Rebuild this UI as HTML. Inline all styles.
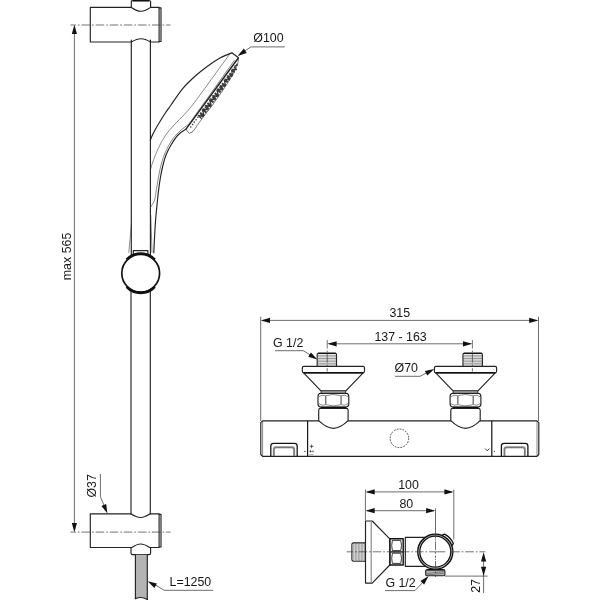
<!DOCTYPE html>
<html>
<head>
<meta charset="utf-8">
<title>Shower set dimensions</title>
<style>
html,body{margin:0;padding:0;background:#fff;}
body{width:600px;height:600px;overflow:hidden;}
svg{display:block;will-change:transform;}
text{font-family:"Liberation Sans",Arial,sans-serif;font-size:12.4px;fill:#161616;}
.o{fill:none;stroke:#222;stroke-width:1.15;stroke-linejoin:round;stroke-linecap:round;}
.of{fill:#fff;stroke:#222;stroke-width:1.15;stroke-linejoin:round;}
.t{fill:none;stroke:#2a2a2a;stroke-width:0.55;}
.d{fill:none;stroke:#333;stroke-width:0.72;}
.c{fill:none;stroke:#444;stroke-width:0.75;stroke-dasharray:8.6 1.9 1.7 1.9;}
.a{fill:#111;stroke:none;}
.th{fill:none;stroke:#555;stroke-width:0.6;}
</style>
</head>
<body>
<svg width="600" height="600" viewBox="0 0 600 600">
<rect width="600" height="600" fill="#fff"/>

<!-- ===== LEFT: rail ===== -->
<g id="rail">
  <!-- bar -->
  <line class="o" x1="131.3" y1="40" x2="131.3" y2="255"/>
  <line class="o" x1="150.4" y1="40" x2="150.4" y2="255"/>
  <line class="o" x1="131" y1="290" x2="131" y2="514"/>
  <line class="o" x1="150.3" y1="290" x2="150.3" y2="514"/>
  <!-- top bracket -->
  <path class="o" d="M131.3 7.4 H90.3 V42 H131.3 C135 39.8 138 38.7 141 38.7 C144 38.7 147 39.8 150.6 42 H159.1 V7.4 H150.6 C147 9.9 144 11.2 141 11.2 C138 11.2 135 9.9 131.3 7.4 Z"/>
  <path class="o" d="M159.1 7.9 H161 V41.5 H159.1" stroke-width="0.8"/>
  <path class="o" d="M131.3 7.4 V1.6 Q131.3 0.6 133 0.6 H149 Q150.6 0.6 150.6 1.6 V7.4"/>
  <path d="M133 0.2 H149 V1.4 H133 Z" fill="#111"/>
  <!-- bottom bracket -->
  <path class="o" d="M130.8 513.8 H90.3 V547.5 H131.8 C135.2 545.2 138 544 140.7 544 C143.4 544 146.2 545.2 149.6 547.5 H159.1 V513.8 H150.2 C146.5 516.2 143.5 517.5 140.5 517.5 C137.5 517.5 134.5 516.2 130.8 513.8 Z"/>
  <path class="o" d="M159.1 514.3 H161 V547 H159.1" stroke-width="0.8"/>
  <!-- nut -->
  <path class="o" d="M131 547.5 V553 Q131 554.6 132.6 554.6 H149 Q150.6 554.6 150.6 553 V547.5"/>
  <!-- hose -->
  <path d="M135.4 554.8 H147.3 V599.4 Q141.5 596 135.4 598.6 Z" fill="#b4b4b4" stroke="none"/><path class="o" d="M135.4 598.6 Q141.5 596 147.3 599.4"/>
  <line class="o" x1="135.4" y1="554.8" x2="135.4" y2="598.6"/>
  <line class="o" x1="147.3" y1="554.8" x2="147.3" y2="599.4"/>
  <!-- slider -->
  <path class="o" d="M133.3 255 V250.6 H147.9 V255"/>
  <circle cx="140.7" cy="273.2" r="18.9" fill="#fff" stroke="#111" stroke-width="1.7"/>
  <path d="M126.6 259.6 A19.4 19.4 0 0 1 154.8 259.6" fill="none" stroke="#111" stroke-width="2.6"/>
  <path d="M126.6 286.8 A19.4 19.4 0 0 0 154.8 286.8" fill="none" stroke="#111" stroke-width="2.6"/>
  <!-- center lines -->
  <line class="c" x1="70.5" y1="25" x2="170.5" y2="25" stroke-dashoffset="3.1"/>
  <line class="c" x1="70.5" y1="532.1" x2="170.5" y2="532.1" stroke-dashoffset="3.1"/>
</g>

<!-- ===== hand shower ===== -->
<g id="hand">
  <path class="o" d="M150.3 140.2 C150.6 139.5 151.2 137.7 152.0 136.0 C152.8 134.3 153.7 132.4 155.0 130.0 C156.3 127.6 158.3 124.2 160.0 121.5 C161.7 118.8 163.2 116.2 165.0 113.5 C166.8 110.8 168.1 109.1 171.0 105.0 C173.9 100.9 178.5 93.5 182.5 88.8 C186.5 84.0 190.8 80.0 195.0 76.2 C199.2 72.5 203.3 69.3 207.5 66.2 C211.7 63.2 215.9 60.4 220.0 58.1 C224.1 55.9 229.9 53.6 231.9 52.8 L238.5 57.75"/>
  <path d="M238.5 57.75 L185.8 129.3" fill="none" stroke="#1c1c1c" stroke-width="1.4"/>
  <path class="t" d="M234.7 59.9 L189.0 124.0"/>
  <path d="M236.5 63.7 L237.3 65.1 L234.8 66.0 L235.6 67.3 M234.0 67.0 L236.4 69.5 L232.4 69.3 L234.7 71.7 M234.7 72.6 L231.6 70.3 L232.6 75.3 L229.6 73.0 M229.1 73.6 L231.9 76.4 L227.5 75.8 L230.3 78.7 M226.7 76.9 L229.6 79.8 L225.0 79.1 L227.9 82.0 M227.5 82.6 L224.3 80.2 L225.5 85.4 L222.2 82.9 M221.8 83.5 L224.8 86.4 L220.2 85.7 L223.2 88.7 M219.4 86.8 L222.4 89.8 L217.7 89.0 L220.8 92.0 M220.4 92.7 L216.9 90.1 L218.4 95.4 L214.9 92.8 M214.5 93.4 L217.7 96.5 L212.8 95.6 L216.0 98.7 M212.1 96.7 L215.3 99.8 L210.4 98.9 L213.7 102.1 M213.3 102.7 L209.6 100.0 L211.3 105.4 L207.6 102.7 M207.2 103.3 L210.6 106.5 L205.5 105.5 L208.9 108.8 M204.7 106.6 L208.2 109.9 L203.1 108.8 L206.5 112.1 M206.2 112.7 L202.3 109.9 L204.1 115.4 L200.3 112.6 M199.9 113.2 L203.4 116.5 L198.2 115.4 L201.7 118.7" fill="none" stroke="#3a3a3a" stroke-width="1.3" stroke-linejoin="round"/>
  <circle cx="197.9" cy="117.3" r="0.8" fill="#333"/><circle cx="196.1" cy="119.7" r="0.8" fill="#333"/><circle cx="194.3" cy="122.1" r="0.8" fill="#333"/><circle cx="192.6" cy="124.5" r="0.8" fill="#333"/><circle cx="190.8" cy="127.0" r="0.8" fill="#333"/>
  <path d="M238.5 57.8 C238.3 58.8 238.6 60.9 237.6 63.8 C236.6 66.6 234.8 70.8 232.5 75.0 C230.2 79.2 227.1 83.8 223.8 88.8 C220.4 93.8 215.8 100.4 212.5 105.0 C209.2 109.6 207.0 111.8 203.8 116.2 C200.5 120.7 194.8 129.0 193.0 131.5 L189.3 133.4 L185.8 129.3" fill="none" stroke="#3a3a3a" stroke-width="0.7" stroke-linejoin="round"/>
  <path class="t" d="M229.6 54.2 C227.1 57.6 219.7 67.8 214.8 74.6 C209.9 81.4 204.1 89.5 200.0 95.0 C195.9 100.5 193.3 104.0 190.5 107.5 C187.7 111.0 185.6 113.2 183.0 116.0 C180.4 118.8 178.0 120.7 175.0 124.0 C172.0 127.3 167.8 131.8 165.0 136.0 C162.2 140.2 160.0 144.7 158.0 149.0 C156.0 153.3 154.1 158.5 152.8 162.0 C151.5 165.5 150.8 168.7 150.4 170.0"/>
  <path class="o" d="M185.8 129.3 C184.5 130.2 180.5 132.4 178.0 135.0 C175.5 137.6 173.0 141.7 171.0 145.0 C169.0 148.3 167.3 151.7 166.0 155.0 C164.7 158.3 163.9 161.3 163.0 165.0 C162.1 168.7 161.2 172.8 160.5 177.0 C159.8 181.2 159.2 185.3 158.6 190.0 C158.0 194.7 157.5 200.0 157.0 205.0 C156.5 210.0 156.0 214.8 155.6 220.0 C155.2 225.2 154.9 230.6 154.6 236.0 C154.3 241.4 153.9 249.9 153.8 252.7"/>
  <path class="t" d="M189.0 124.0 C187.5 125.2 182.8 128.3 180.0 131.0 C177.2 133.7 174.5 136.3 172.0 140.0 C169.5 143.7 166.8 148.8 165.0 153.0 C163.2 157.2 162.1 161.0 161.0 165.0 C159.9 169.0 159.3 172.8 158.5 177.0 C157.7 181.2 157.0 186.2 156.3 190.0 C155.7 193.8 155.5 197.2 154.6 200.0 C153.7 202.8 151.4 205.8 150.8 207.0"/>
  <path class="t" d="M131.5 223.5 L128.8 252.7"/>
  <path class="t" d="M150.8 215 L152 252.7"/>
</g>

<!-- ===== mixer front ===== -->
<g id="mixer">
  <path class="o" d="M262.6 420.8 H537 L538.8 422.6 V454.5 L537 456.3 H262.6 L260.8 454.5 V422.6 Z"/>
  <line class="t" x1="262.6" y1="421" x2="262.6" y2="456" stroke-width="0.8"/>
  <line class="t" x1="537" y1="421" x2="537" y2="456" stroke-width="0.8"/>
  <line x1="307.6" y1="420.8" x2="307.6" y2="456.3" stroke="#151515" stroke-width="1.2"/>
  <line x1="491.8" y1="420.8" x2="491.8" y2="456.3" stroke="#151515" stroke-width="1.2"/>
  <path d="M270.8 456 V446 Q270.8 443.3 273.5 443.3 H294.5 Q297.2 443.3 297.2 446 V456" fill="none" stroke="#151515" stroke-width="1.3"/>
  <path d="M273.5 456 V449.4 Q273.5 447 275.9 447 H292.1 Q294.5 447 294.5 449.4 V456" fill="none" stroke="#8a8a8a" stroke-width="1.3"/>
  <path d="M274.3 456 V449.8 Q274.3 447.8 276.3 447.8 H291.7 Q293.7 447.8 293.7 449.8 V456" fill="none" stroke="#333" stroke-width="0.6"/>
  <path d="M501.4 456 V446 Q501.4 443.3 504.09999999999997 443.3 H525.1999999999999 Q527.9 443.3 527.9 446 V456" fill="none" stroke="#151515" stroke-width="1.3"/>
  <path d="M504.1 456 V449.4 Q504.1 447 506.5 447 H522.8 Q525.2 447 525.2 449.4 V456" fill="none" stroke="#8a8a8a" stroke-width="1.3"/>
  <path d="M504.9 456 V449.8 Q504.9 447.8 506.9 447.8 H522.4 Q524.4 447.8 524.4 449.8 V456" fill="none" stroke="#333" stroke-width="0.6"/>
  <circle cx="399.4" cy="438.3" r="9.3" fill="none" stroke="#333" stroke-width="0.85" stroke-dasharray="1.8 1.12"/>
  <path d="M309.8 446.4 H313.4 M311.6 444.6 V448.2 M309.4 451.4 H311.6 M310.5 450.3 V452.5 M304 451.4 H305.8" fill="none" stroke="#222" stroke-width="0.7"/>
  <circle cx="312.9" cy="451.4" r="0.7" fill="none" stroke="#222" stroke-width="0.5"/>
  <path d="M309.3 454.6 H313.4" fill="none" stroke="#777" stroke-width="0.7"/>
  <path d="M485.2 448.6 L487.3 450.9 L489.4 448.6 M493.8 451.3 H495" fill="none" stroke="#222" stroke-width="0.9"/>
</g>

<!-- connectors -->
<g id="connL">
  <path class="of" d="M318.7 420.6 V410.3 Q318.7 408.4 320.6 408.4 H346.2 Q348.1 408.4 348.1 410.3 V420.6 C345.4 423.2 339.9 428.3 333.4 428.3 C326.9 428.3 321.4 423.2 318.7 420.6 Z"/>
  <rect x="321.1" y="390.7" width="24.6" height="2.6" fill="#bdbdbd" stroke="#1c1c1c" stroke-width="0.8"/>
  <path class="of" d="M320.8 393.3 H346.0 Q348.8 393.6 348.8 396.4 V404 Q348.8 406.8 346.0 407.1 H320.8 Q318.0 406.8 318.0 404 V396.4 Q318.0 393.6 320.8 393.3 Z"/>
  <path d="M320.8 407.5 H346.0" fill="none" stroke="#111" stroke-width="1.5"/>
  <path d="M325.7 395.6 V404.8 M341.1 395.6 V404.8" fill="none" stroke="#6a6a6a" stroke-width="1.3"/>
  <path class="t" d="M326.2 395.6 Q333.4 393.4 340.6 395.6 M326.2 404.8 Q333.4 407 340.6 404.8 M318.8 396.8 Q321.9 394.2 325.2 395.6 M348.0 396.8 Q344.9 394.2 341.6 395.6 M318.8 403.6 Q321.9 406.2 325.2 404.8 M348.0 403.6 Q344.9 406.2 341.6 404.8"/>
  <path class="of" d="M303.4 372.7 H363.4 L346.1 390.7 H320.7 Z"/>
  <path class="of" d="M302.3 368 Q302.3 366.4 303.9 366.4 H362.9 Q364.5 366.4 364.5 368 V371.2 Q364.5 372.7 363.0 372.7 H303.8 Q302.3 372.7 302.3 371.2 Z"/>
  <path d="M303.4 372.7 H363.4" fill="none" stroke="#111" stroke-width="1.4"/>
  <path class="of" d="M317.2 366.4 V354.2 L318.2 353.2 H335.5 L336.5 354.2 V366.4 Z"/>
  <path d="M318.0 353.3 H335.7" fill="none" stroke="#111" stroke-width="1.3"/>
  <path class="th" d="M317.5 355.3 H336.2 M317.5 356.9 H336.2 M317.5 358.5 H336.2 M317.5 360.1 H336.2 M317.5 361.7 H336.2 M317.5 363.3 H336.2 M317.5 364.9 H336.2"/>
</g>
<g id="connR">
  <path class="of" d="M450.8 420.6 V410.3 Q450.8 408.4 452.7 408.4 H478.3 Q480.2 408.4 480.2 410.3 V420.6 C477.5 423.2 472.0 428.3 465.5 428.3 C459.0 428.3 453.5 423.2 450.8 420.6 Z"/>
  <rect x="453.2" y="390.7" width="24.6" height="2.6" fill="#bdbdbd" stroke="#1c1c1c" stroke-width="0.8"/>
  <path class="of" d="M452.9 393.3 H478.1 Q480.9 393.6 480.9 396.4 V404 Q480.9 406.8 478.1 407.1 H452.9 Q450.1 406.8 450.1 404 V396.4 Q450.1 393.6 452.9 393.3 Z"/>
  <path d="M452.9 407.5 H478.1" fill="none" stroke="#111" stroke-width="1.5"/>
  <path d="M457.8 395.6 V404.8 M473.2 395.6 V404.8" fill="none" stroke="#6a6a6a" stroke-width="1.3"/>
  <path class="t" d="M458.3 395.6 Q465.5 393.4 472.7 395.6 M458.3 404.8 Q465.5 407 472.7 404.8 M450.9 396.8 Q454.0 394.2 457.3 395.6 M480.1 396.8 Q477.0 394.2 473.7 395.6 M450.9 403.6 Q454.0 406.2 457.3 404.8 M480.1 403.6 Q477.0 406.2 473.7 404.8"/>
  <path class="of" d="M435.5 372.7 H495.5 L478.2 390.7 H452.8 Z"/>
  <path class="of" d="M434.4 368 Q434.4 366.4 436.0 366.4 H495.0 Q496.6 366.4 496.6 368 V371.2 Q496.6 372.7 495.1 372.7 H435.9 Q434.4 372.7 434.4 371.2 Z"/>
  <path d="M435.5 372.7 H495.5" fill="none" stroke="#111" stroke-width="1.4"/>
  <path class="of" d="M463.0 366.4 V354.2 L464.0 353.2 H481.4 L482.4 354.2 V366.4 Z"/>
  <path d="M463.8 353.3 H481.6" fill="none" stroke="#111" stroke-width="1.3"/>
  <path class="th" d="M463.3 355.3 H482.1 M463.3 356.9 H482.1 M463.3 358.5 H482.1 M463.3 360.1 H482.1 M463.3 361.7 H482.1 M463.3 363.3 H482.1 M463.3 364.9 H482.1"/>
</g>

<!-- ===== side view ===== -->
<g id="side">
  <path class="of" d="M365.5 542.8 H353 L351.9 543.9 V560.1 L353 561.2 H365.5 Z"/>
  <path class="th" d="M353.8 543.2 V560.8 M355.3 543.2 V560.8 M356.8 543.2 V560.8 M358.3 543.2 V560.8 M359.8 543.2 V560.8 M361.3 543.2 V560.8 M362.8 543.2 V560.8 M364.3 543.2 V560.8"/>
  <path class="of" d="M365.5 521 H372.2 L389.8 538.8 V565 L372.2 583.1 H365.5 Z"/>
  <path d="M371.2 521.6 V582.6" fill="none" stroke="#8c8c8c" stroke-width="1.2"/>
  <path d="M390 538.8 H403.2 V565 H390 Z" fill="#fff" stroke="#111" stroke-width="1.4" stroke-linejoin="round"/>
  <path d="M392.4 540.4 Q391 545.6 392.4 550.6 H400.8 Q402.2 545.6 400.8 540.4 Z M392.4 553.2 Q391 558.4 392.4 563.4 H400.8 Q402.2 558.4 400.8 553.2 Z" fill="none" stroke="#222" stroke-width="0.9" stroke-linejoin="round"/>
  <path d="M390 551.9 H403.2" fill="none" stroke="#111" stroke-width="1.3"/>
  <path class="o" d="M425 537.3 H405.3 V566.4 H425"/>
  <path d="M427.2 569.6 H443.4 Q444.9 569.6 444.9 571 V574.4 Q444.9 575.8 443.4 575.8 H427.2 Q425.7 575.8 425.7 574.4 V571 Q425.7 569.6 427.2 569.6 Z" fill="#b5b5b5" stroke="#222" stroke-width="1.1"/>
  <path d="M427 569.8 H443.6" fill="none" stroke="#111" stroke-width="1.4"/>
  <path d="M426.5 573.6 L444 571.6 M426.5 575 L444 573.2" fill="none" stroke="#555" stroke-width="0.6"/>
  <path d="M442.3 535.1 L444.6 534.1 A19.9 19.9 0 0 1 453.3 543.3 L452.3 545.8" fill="#fff" stroke="#111" stroke-width="1.3" stroke-linejoin="round"/>
  <circle cx="435.3" cy="551.7" r="17.4" fill="#fff" stroke="#111" stroke-width="1.7"/>
  <circle cx="435.3" cy="551.7" r="16.5" fill="none" stroke="#aaa" stroke-width="0.8"/>
  <circle cx="435.3" cy="551.7" r="15.5" fill="none" stroke="#111" stroke-width="1.3"/>
  <line class="c" x1="346.7" y1="551.8" x2="437.8" y2="551.8" stroke-dasharray="12.8 3 1.5 3" stroke-dashoffset="2.2"/><line class="c" x1="437.8" y1="551.8" x2="445.3" y2="551.8" stroke-dasharray="none"/><line class="c" x1="451.2" y1="551.8" x2="485.3" y2="551.8" stroke-dasharray="1.5 3.3 12 3.2"/>
  <path class="c" d="M435.5 534 V538.5 M435.5 539.4 V540.6 M435.5 541.5 V558 M435.5 558.9 V560.1 M435.5 561 V577" stroke-dasharray="none"/>
</g>

<!-- ===== dimensions ===== -->
<g id="dims">
  <line class="d" x1="74.4" y1="27" x2="74.4" y2="530"/>
  <path class="a" d="M74.4 24.8 L71.8 34.0 L77.0 34.0 Z"/>
  <path class="a" d="M74.4 532.2 L77.0 523.0 L71.8 523.0 Z"/>
  <text transform="translate(71 280.2) rotate(-90)">max 565</text>
  <path class="d" d="M284.8 46.9 H251 L243 52"/>
  <path class="a" d="M237.6 55.9 L246.7 52.9 L243.8 48.6 Z"/>
  <text x="253.3" y="41.8">Ø100</text>
  <path class="d" d="M100.4 474 V496.7 L105.5 509"/>
  <path class="a" d="M107.4 513.4 L106.2 503.9 L101.4 505.9 Z"/>
  <text transform="translate(95.8 497.6) rotate(-90)">Ø37</text>
  <path class="d" d="M213.3 590.3 H164.2 L155 584.6"/>
  <path class="a" d="M147.6 581.3 L154.4 588.0 L156.9 583.4 Z"/>
  <text x="169.5" y="586">L=1250</text>
  <line class="d" x1="260.7" y1="316.7" x2="260.7" y2="421"/>
  <line class="d" x1="538.5" y1="316.7" x2="538.5" y2="421"/>
  <line class="d" x1="262" y1="320.4" x2="537" y2="320.4"/>
  <path class="a" d="M260.8 320.4 L270.0 323.0 L270.0 317.8 Z"/>
  <path class="a" d="M538.4 320.4 L529.2 317.8 L529.2 323.0 Z"/>
  <text x="389.4" y="316.8">315</text>
  <line class="c" x1="327.2" y1="340" x2="327.2" y2="371.5" stroke-dasharray="5 1.5 1.2 1.5"/>
  <line class="c" x1="472.4" y1="340" x2="472.4" y2="371.5" stroke-dasharray="5 1.5 1.2 1.5"/>
  <line class="d" x1="329" y1="343.8" x2="471" y2="343.8"/>
  <path class="a" d="M327.4 343.8 L336.6 346.4 L336.6 341.2 Z"/>
  <path class="a" d="M472.2 343.8 L463.0 341.2 L463.0 346.4 Z"/>
  <text x="374.4" y="340.5">137 - 163</text>
  <path class="d" d="M275 350.7 H303.3 L312 356"/>
  <path class="a" d="M317.4 359.4 L310.9 352.4 L308.2 356.8 Z"/>
  <text x="273" y="346.8">G 1/2</text>
  <path class="d" d="M395 376.3 H420 L428 372.2"/>
  <path class="a" d="M434.3 369.0 L424.9 370.9 L427.3 375.5 Z"/>
  <text x="394.6" y="371.8">Ø70</text>
  <line class="d" x1="365.4" y1="489.5" x2="365.4" y2="520.5"/>
  <line class="d" x1="453.8" y1="489.5" x2="453.8" y2="539.5"/>
  <line class="d" x1="367" y1="491.9" x2="452" y2="491.9"/>
  <path class="a" d="M365.5 491.9 L374.7 494.5 L374.7 489.3 Z"/>
  <path class="a" d="M453.6 491.9 L444.4 489.3 L444.4 494.5 Z"/>
  <text x="398.2" y="488.7">100</text>
  <line class="d" x1="435.5" y1="508.4" x2="435.5" y2="534"/>
  <line class="d" x1="367" y1="510.7" x2="434" y2="510.7"/>
  <path class="a" d="M365.5 510.7 L374.7 513.3 L374.7 508.1 Z"/>
  <path class="a" d="M435.3 510.7 L426.1 508.1 L426.1 513.3 Z"/>
  <text x="399.4" y="507.7">80</text>
  <path class="d" d="M385 590.6 H415 L424 581"/>
  <path class="a" d="M428.6 576.0 L420.4 581.0 L424.2 584.5 Z"/>
  <text x="385.4" y="586.6">G 1/2</text>
  <line class="d" x1="445" y1="576.1" x2="487.5" y2="576.1"/>
  <line class="d" x1="483.6" y1="554" x2="483.6" y2="593"/>
  <path class="a" d="M483.6 552.2 L481.0 561.4 L486.2 561.4 Z"/>
  <path class="a" d="M483.6 576.0 L486.2 566.8 L481.0 566.8 Z"/>
  <text transform="translate(480.2 592.8) rotate(-90)">27</text>
</g>
</svg>
</body>
</html>
